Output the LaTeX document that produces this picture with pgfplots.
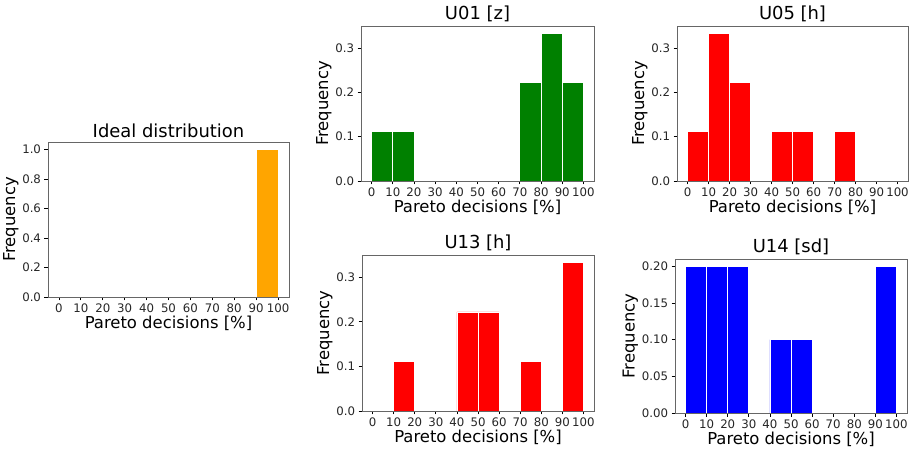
\documentclass[border=0pt]{standalone}
\usepackage{pgfplots}
\pgfplotsset{compat=1.18}
\usepackage{fontspec}
\setmainfont{DejaVu Sans}
\definecolor{mplgreen}{RGB}{0,128,0}
\definecolor{mplred}{RGB}{255,0,0}
\definecolor{mplblue}{RGB}{0,0,255}
\definecolor{mplorange}{RGB}{255,165,0}
\pgfplotsset{
 hist/.style={
  scale only axis, width=233bp, height=155bp,
  xmin=-5, xmax=105, ymin=0,
  xtick={0,10,...,100},
  tick align=outside, xtick pos=left, ytick pos=left,
  major tick length=3.5bp,
  tick style={black, line width=0.8bp},
  axis line style={black!60, line width=0.8bp},
  ticklabel style={font=\fontsize{11.8}{13}\selectfont, text=black!85},
  xticklabel style={inner xsep=0pt},
  label style={font=\fontsize{16.5}{18}\selectfont},
  title style={font=\fontsize{18}{20}\selectfont, yshift=-5bp},
  xlabel={Pareto decisions [\%]}, ylabel={Frequency},
  xlabel style={yshift=4bp},
  ylabel style={yshift=-3bp},
  /pgf/number format/assume math mode=true,
  xticklabel style={/pgf/number format/.cd, int detect},
  yticklabel style={/pgf/number format/.cd, fixed, fixed zerofill, precision=\yprec},
  scaled y ticks=false,
  ybar, bar width=10, bar shift=0,
  every axis plot/.append style={draw=white, line width=0.8bp},
 }
}
\def\yprec{1}
\begin{document}
\begin{tikzpicture}
\path[use as bounding box] (0,0) rectangle (917bp,452bp);
% Ideal
\begin{axis}[hist, at={(48bp,155bp)}, anchor=south west, width=241bp, height=155bp,
  title={Ideal distribution}, ymax=1.05, ytick={0,0.2,0.4,0.6,0.8,1.0}]
\addplot[fill=mplorange] coordinates {(95,1.0)};
\end{axis}
% U01
\begin{axis}[hist, at={(361bp,271bp)}, anchor=south west, width=233bp, height=155bp,
  title={U01 [z]}, ymax=0.35, ytick={0,0.1,0.2,0.3}]
\addplot[fill=mplgreen] coordinates {(5,0.1111) (15,0.1111) (75,0.2222) (85,0.3333) (95,0.2222)};
\end{axis}
% U05
\begin{axis}[hist, at={(677bp,271bp)}, anchor=south west, width=231bp, height=155bp,
  title={U05 [h]}, ymax=0.35, ytick={0,0.1,0.2,0.3}]
\addplot[fill=mplred] coordinates {(5,0.1111) (15,0.3333) (25,0.2222) (45,0.1111) (55,0.1111) (75,0.1111)};
\end{axis}
% U13
\begin{axis}[hist, at={(362bp,41bp)}, anchor=south west, width=232bp, height=156bp,
  title={U13 [h]}, ymax=0.35, ytick={0,0.1,0.2,0.3}]
\addplot[fill=mplred] coordinates {(15,0.1111) (45,0.2222) (55,0.2222) (75,0.1111) (95,0.3333)};
\end{axis}
% U14
\def\yprec{2}
\begin{axis}[hist, at={(675bp,39bp)}, anchor=south west, width=232bp, height=154bp,
  title={U14 [sd]}, ymax=0.21, ytick={0,0.05,0.10,0.15,0.20}]
\addplot[fill=mplblue] coordinates {(5,0.2) (15,0.2) (25,0.2) (45,0.1) (55,0.1) (95,0.2)};
\end{axis}
\end{tikzpicture}
\end{document}
